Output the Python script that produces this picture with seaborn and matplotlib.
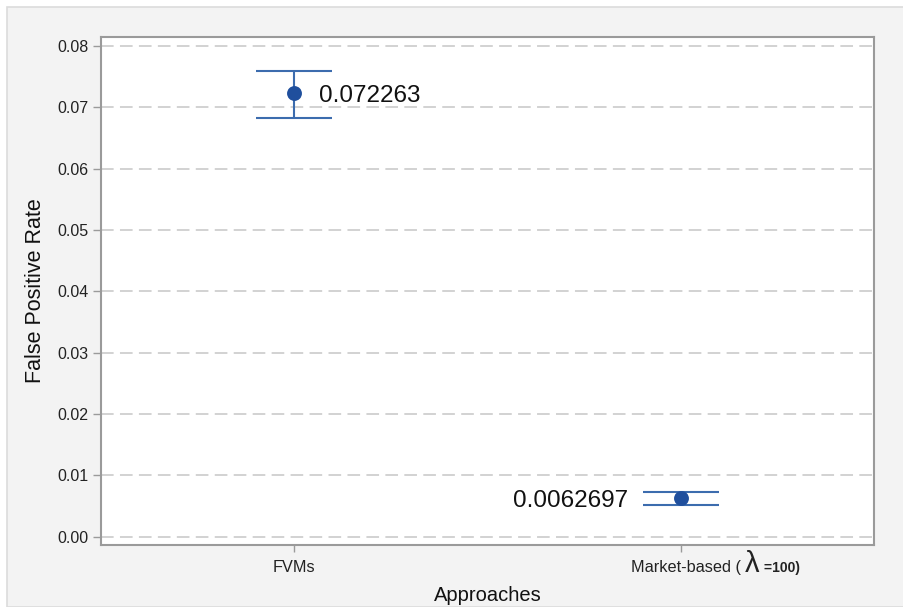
import matplotlib
matplotlib.use("Agg")
import matplotlib.pyplot as plt
from matplotlib.patches import Rectangle
from matplotlib.offsetbox import TextArea, HPacker, AnnotationBbox
import pandas as pd
import seaborn as sns

# Mean false positive rate per approach, with interval bounds
approaches = ["FVMs", "Market-based ( λ =100)"]
fpr_mean = [0.072263, 0.0062697]
fpr_low = [0.06824, 0.00511]
fpr_high = [0.0759, 0.00732]
value_labels = ["0.072263", "0.0062697"]
y_ticks = [0.00, 0.01, 0.02, 0.03, 0.04, 0.05, 0.06, 0.07, 0.08]

df = pd.DataFrame({"Approaches": approaches, "False Positive Rate": fpr_mean,
                   "low": fpr_low, "high": fpr_high})

sns.set_theme(style="white")
plt.rcParams["font.family"] = ["Liberation Sans", "DejaVu Sans"]

W, H = 904, 607
fig = plt.figure(figsize=(W / 100, H / 100), dpi=100, facecolor="white")

# light grey panel behind the chart
panel = Rectangle((7 / W, 0), 1 - 7 / W, 1 - 7 / H, transform=fig.transFigure,
                  facecolor="#f3f3f3", edgecolor="#dcdcdc", linewidth=1.2, zorder=-5)
fig.patches.append(panel)

ax = fig.add_axes([101 / W, 1 - 545 / H, (874 - 101) / W, (545 - 37) / H])
ax.set_zorder(2)
ax.set_facecolor("white")

line_col = "#3c6cae"
dot_col = "#1f4f9d"

x = list(range(len(approaches)))
ax.errorbar(x, df["False Positive Rate"],
            yerr=[df["False Positive Rate"] - df["low"], df["high"] - df["False Positive Rate"]],
            fmt="none", ecolor=line_col, elinewidth=1.5, capsize=27.5, capthick=1.5, zorder=3)
sns.scatterplot(data=df, x="Approaches", y="False Positive Rate", ax=ax,
                color=dot_col, s=115, edgecolor=dot_col, linewidth=0, zorder=4)

ax.annotate(value_labels[0], (x[0], fpr_mean[0]), xytext=(18, 0), textcoords="offset points",
            ha="left", va="center_baseline", fontsize=17.5, color="#111111")
ax.annotate(value_labels[1], (x[1], fpr_mean[1]), xytext=(-38, 0), textcoords="offset points",
            ha="right", va="center_baseline", fontsize=17.5, color="#111111")

ax.set_xlim(-0.5, 1.5)
ax.set_ylim(-0.00135, 0.08146)
ax.set_yticks(y_ticks)
ax.set_yticklabels([f"{v:.2f}" for v in y_ticks])
ax.set_xticks(x)
ax.set_xticklabels([approaches[0], ""])

# second category label: large lambda and a small bold "=100)",
# with the method name itself centred under the tick
txt_col = "#222222"
name, _, rest = approaches[1].partition("λ")
parts = HPacker(children=[
    TextArea(name, textprops=dict(fontsize=11.7, color=txt_col)),
    TextArea("λ", textprops=dict(fontsize=21, color=txt_col)),
    TextArea(rest, textprops=dict(fontsize=10, color=txt_col, fontweight="bold")),
], align="baseline", pad=0, sep=0)
ab = AnnotationBbox(parts, (x[1], 0), xycoords=("data", "axes fraction"),
                    xybox=(-36, -13.5), boxcoords="offset points", box_alignment=(0, 0.5),
                    frameon=False, annotation_clip=False)
ax.add_artist(ab)

ax.yaxis.grid(True, linestyle=(0, (7, 3.5)), color="#cfcfcf", linewidth=1.3)
ax.set_axisbelow(True)
for s in ax.spines.values():
    s.set_color("#9a9a9a")
    s.set_linewidth(1.5)

ax.tick_params(axis="y", which="both", left=True, length=6, width=1, color="#9a9a9a",
               labelsize=11.5, labelcolor=txt_col, pad=3)
ax.tick_params(axis="x", which="both", bottom=True, length=5, width=1, color="#9a9a9a",
               labelsize=11.7, labelcolor=txt_col, pad=6)

ax.set_xlabel("Approaches", fontsize=14.5, color="#111111", labelpad=8)
ax.set_ylabel("False Positive Rate", fontsize=15.5, color="#111111", labelpad=8)

fig.savefig("out.png", dpi=100, facecolor=fig.get_facecolor())
